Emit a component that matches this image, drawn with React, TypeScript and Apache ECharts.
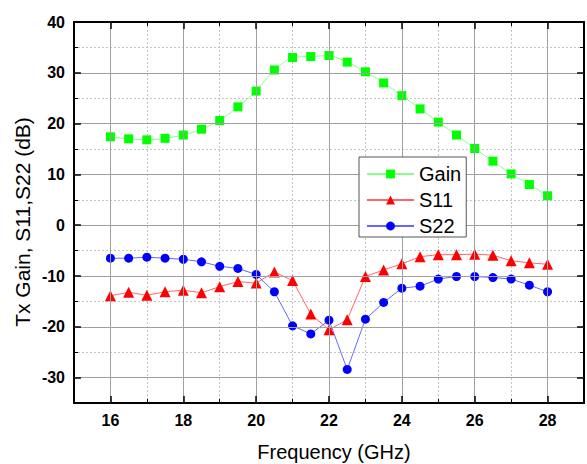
import React, { useEffect, useRef } from "react";
import * as echarts from "echarts";

const freq = [16, 16.5, 17, 17.5, 18, 18.5, 19, 19.5, 20, 20.5, 21, 21.5, 22, 22.5, 23, 23.5, 24, 24.5, 25, 25.5, 26, 26.5, 27, 27.5, 28];
const gain = [17.4, 17.0, 16.8, 17.1, 17.75, 18.9, 20.6, 23.3, 26.4, 30.55, 33.0, 33.2, 33.4, 32.1, 30.2, 28.0, 25.5, 22.9, 20.3, 17.75, 15.1, 12.6, 10.1, 8.0, 5.8];
const s11 = [-13.9, -13.2, -13.8, -13.1, -12.8, -13.3, -12.1, -11.1, -11.4, -9.2, -10.9, -17.5, -20.6, -18.6, -10.1, -8.8, -7.6, -6.2, -5.8, -5.8, -5.7, -5.9, -7.0, -7.4, -7.7];
const s22 = [-6.5, -6.5, -6.3, -6.5, -6.7, -7.2, -8.1, -8.5, -9.7, -13.1, -19.8, -21.4, -18.7, -28.4, -18.5, -15.2, -12.4, -12.0, -10.6, -10.1, -10.1, -10.3, -10.6, -11.8, -13.1];

// axis ranges and tick values
const xRange = { min: 15, max: 29 };
const yRange = { min: -35, max: 40 };
const xMajorTicks = [16, 18, 20, 22, 24, 26, 28];
const yMajorTicks = [-30, -20, -10, 0, 10, 20, 30, 40];

const FONT = "'Liberation Sans', Arial, sans-serif";

export default function App() {
  const ref = useRef<HTMLDivElement>(null);
  useEffect(() => {
    if (!ref.current) return;
    const chart = echarts.init(ref.current, null, { renderer: "svg" });
    const pairs = (ys: number[]) => freq.map((f, i) => [f, ys[i]]);

    const LEFT = 74, RIGHT = -5, TOP = 22, BOTTOM = 61;
    const W = 587, H = 464;
    const plotW = W - LEFT - RIGHT;
    const plotH = H - TOP - BOTTOM;
    const MAJOR = 7;
    const dx = (MAJOR / plotW) * (xRange.max - xRange.min);
    const dy = (MAJOR / plotH) * (yRange.max - yRange.min);

    const tickSegments = [
      ...xMajorTicks.map((v) => [{ coord: [v, yRange.min] }, { coord: [v, yRange.min + dy] }]),
      ...xMajorTicks.map((v) => [{ coord: [v, yRange.max] }, { coord: [v, yRange.max - dy] }]),
      ...yMajorTicks.map((v) => [{ coord: [xRange.min, v] }, { coord: [xRange.min + dx, v] }]),
      ...yMajorTicks.map((v) => [{ coord: [xRange.max, v] }, { coord: [xRange.max - dx, v] }]),
    ];
    const gridLines = [
      ...xMajorTicks.map((v) => ({ xAxis: v })),
      ...yMajorTicks.filter((v) => v < yRange.max).map((v) => ({ yAxis: v })),
    ];

    const labelStyle = { margin: 9, color: "#000", fontSize: 16, fontWeight: "bold", fontFamily: FONT };
    const minorTick = { show: true, inside: true, length: 4, lineStyle: { color: "#000", width: 1 } };

    chart.setOption({
      animation: false,
      backgroundColor: "#fff",
      grid: { left: LEFT, top: TOP, right: RIGHT, bottom: BOTTOM },
      xAxis: [
        {
          type: "value", position: "bottom", ...xRange, interval: 1,
          axisLine: { show: true, onZero: false, lineStyle: { color: "#000", width: 2 } },
          axisTick: minorTick,
          axisLabel: { show: true, ...labelStyle, formatter: (v: number) => (xMajorTicks.includes(v) ? String(v) : "") },
          splitLine: { show: true, lineStyle: { color: "#c4c4c4", width: 1, type: [2, 2] } },
        },
        {
          type: "value", position: "top", ...xRange, interval: 1,
          axisLine: { show: true, onZero: false, lineStyle: { color: "#000", width: 2 } },
          axisTick: minorTick,
          axisLabel: { show: false },
          splitLine: { show: false },
        },
      ],
      yAxis: [
        {
          type: "value", position: "left", ...yRange, interval: 5,
          axisLine: { show: true, onZero: false, lineStyle: { color: "#000", width: 2 } },
          axisTick: minorTick,
          axisLabel: { show: true, ...labelStyle, formatter: (v: number) => (yMajorTicks.includes(v) ? String(v) : "") },
          splitLine: { show: true, lineStyle: { color: "#c4c4c4", width: 1, type: [2, 2] } },
        },
        {
          type: "value", position: "right", ...yRange, interval: 5,
          axisLine: { show: true, onZero: false, lineStyle: { color: "#000", width: 2 } },
          axisTick: minorTick,
          axisLabel: { show: false },
          splitLine: { show: false },
        },
      ],
      legend: {
        orient: "vertical",
        left: 359,
        top: 157,
        padding: [7, 5, 1, 7],
        itemWidth: 47,
        itemHeight: 11,
        itemGap: 6,
        backgroundColor: "#fff",
        borderColor: "#555",
        borderWidth: 1,
        borderRadius: 0,
        z: 10,
        textStyle: { color: "#000", fontSize: 20, fontFamily: FONT, lineHeight: 20 },
        data: ["Gain", "S11", "S22"],
      },
      graphic: [
        {
          type: "text", x: 22, y: 222, rotation: Math.PI / 2,
          style: { text: "Tx Gain, S11,S22 (dB)", fontSize: 21, fontFamily: FONT, fill: "#000", align: "center", verticalAlign: "middle" },
        },
        {
          type: "text", x: 334, y: 452,
          style: { text: "Frequency (GHz)", fontSize: 20, fontFamily: FONT, fill: "#000", align: "center", verticalAlign: "middle" },
        },
      ],
      series: [
        {
          name: "grid", type: "line", data: [], z: 1, silent: true,
          markLine: {
            silent: true, symbol: ["none", "none"], label: { show: false },
            lineStyle: { color: "#a0a0a0", width: 1, type: "solid" },
            emphasis: { disabled: true },
            data: gridLines,
          },
        },
        {
          name: "majorTicks", type: "line", data: [], z: 4, silent: true,
          markLine: {
            silent: true, symbol: ["none", "none"], label: { show: false },
            lineStyle: { color: "#000", width: 1.5, type: "solid" },
            emphasis: { disabled: true },
            data: tickSegments,
          },
        },
        {
          name: "Gain", type: "line", data: pairs(gain), smooth: 0.25, z: 3,
          symbol: "rect", symbolSize: 9,
          lineStyle: { color: "#88ff88", width: 1 },
          itemStyle: { color: "#00ff00" },
        },
        {
          name: "S11", type: "line", data: pairs(s11), z: 3,
          symbol: "triangle", symbolSize: 11,
          lineStyle: { color: "#ff6666", width: 1 },
          itemStyle: { color: "#ff0000" },
        },
        {
          name: "S22", type: "line", data: pairs(s22), z: 3,
          symbol: "circle", symbolSize: 9,
          lineStyle: { color: "#6666ff", width: 1 },
          itemStyle: { color: "#0000ff" },
        },
      ],
    });
    return () => chart.dispose();
  }, []);
  return <div ref={ref} style={{ position: "fixed", left: 0, top: 0, width: 587, height: 464 }} />;
}
